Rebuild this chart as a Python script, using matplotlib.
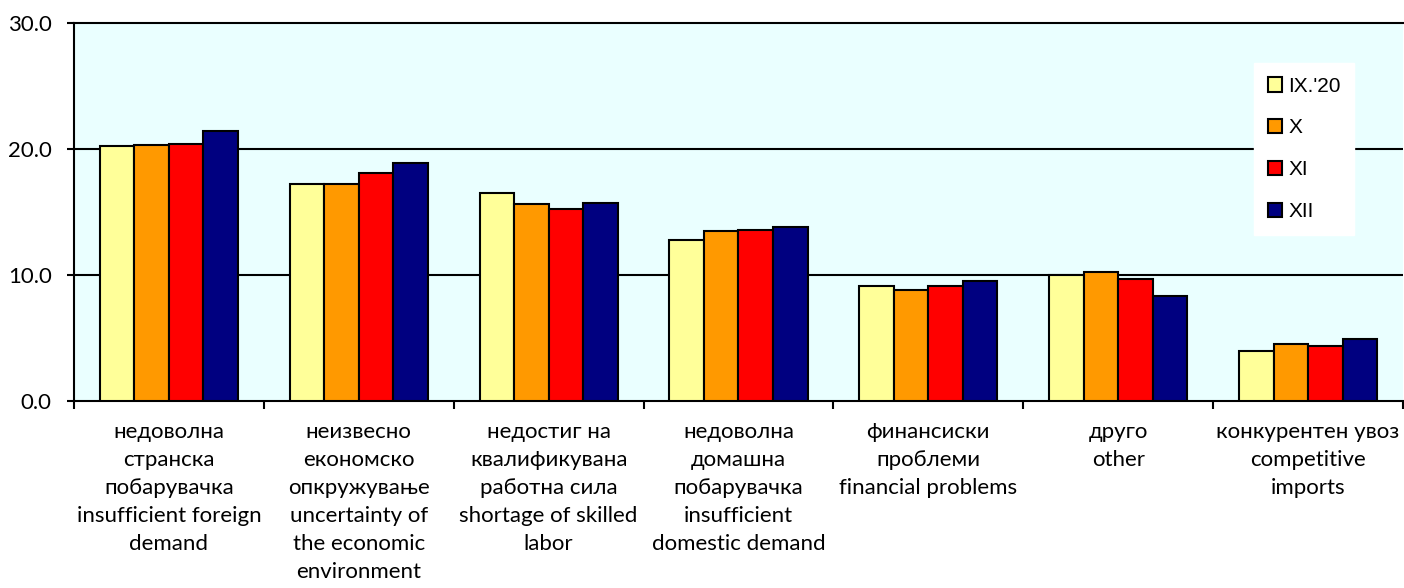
import numpy as np
import matplotlib.pyplot as plt
from matplotlib.patches import Patch

#%% data
categories = [
    "недоволна\nстранска\nпобарувачка\ninsufficient foreign\ndemand",
    "неизвесно\nекономско\nопкружување\nuncertainty of\nthe economic\nenvironment",
    "недостиг на\nквалификувана\nработна сила\nshortage of skilled\nlabor",
    "недоволна\nдомашна\nпобарувачка\ninsufficient\ndomestic demand",
    "финансиски\nпроблеми\nfinancial problems",
    "друго\nother",
    "конкурентен увоз\ncompetitive\nimports",
]
series_names = ["IX.'20", "X", "XI", "XII"]
sep20 = [20.2, 17.2, 16.5, 12.8, 9.1, 10.0, 4.0]
oct20 = [20.3, 17.2, 15.6, 13.5, 8.8, 10.2, 4.5]
nov20 = [20.4, 18.1, 15.2, 13.6, 9.1, 9.7, 4.4]
dec20 = [21.4, 18.9, 15.7, 13.8, 9.5, 8.3, 4.9]

colors = ["#FFFF99", "#FF9900", "#FF0000", "#000080"]

#%% plot
fig = plt.figure(figsize=(14.04, 5.88), dpi=100)
ax = fig.add_axes([74 / 1404, 1 - 401 / 588, 1329 / 1404, 378 / 588])
ax.set_facecolor("#EAFFFF")

x = np.arange(len(categories))
w = 0.182
all_series = [sep20, oct20, nov20, dec20]
for i, vals in enumerate(all_series):
    ax.bar(x + (i - 1.5) * w, vals, width=w, color=colors[i],
           edgecolor="black", linewidth=1.5, zorder=3)

ax.set_xlim(-0.5, len(categories) - 0.5)
ax.set_ylim(0, 30)
ax.set_yticks([0, 10, 20, 30])
ax.set_yticklabels(["0.0", "10.0", "20.0", "30.0"], fontfamily="Lato", fontsize=16)
for yv in [10, 20]:
    ax.axhline(yv, color="black", linewidth=1.5, zorder=1)

ax.set_xticks(np.arange(len(categories) + 1) - 0.5)
ax.set_xticklabels([])
ax.set_xticks(x, minor=True)
ax.set_xticklabels(categories, minor=True, fontfamily="Lato", fontsize=16,
                   linespacing=1.5, va="top")
ax.tick_params(axis="x", which="minor", length=0, pad=15)
ax.tick_params(axis="x", which="major", length=5.5, width=1.5, direction="out")
ax.tick_params(axis="y", length=5, width=1.5, direction="out", pad=11)

for s in ax.spines.values():
    s.set_linewidth(1.5)
ax.spines["right"].set_visible(False)

handles = [Patch(facecolor=c, edgecolor="black", linewidth=1.5) for c in colors]
leg = ax.legend(handles, series_names, loc="upper left",
                bbox_to_anchor=((1254 - 74) / 1329, (401 - 63) / 378),
                frameon=True, fancybox=False, framealpha=1, edgecolor="white",
                prop={"family": "Liberation Sans", "size": 15},
                handlelength=0.7, handleheight=0.7, handletextpad=0.3,
                labelspacing=1.1, borderpad=0.65, borderaxespad=0)

fig.savefig("out.png", dpi=100)
